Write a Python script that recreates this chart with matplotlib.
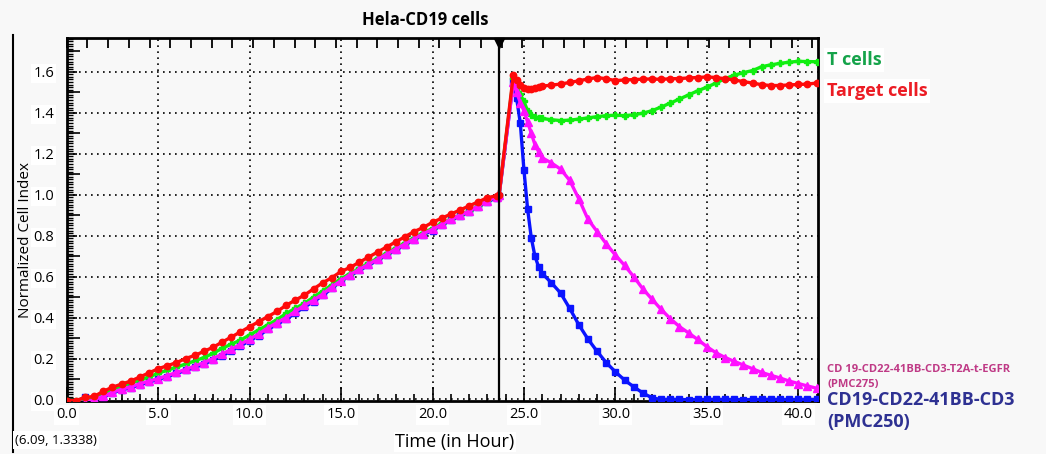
import matplotlib
matplotlib.use("Agg")
import matplotlib.pyplot as plt
import matplotlib.transforms as mtrans
from matplotlib.lines import Line2D
from matplotlib.ticker import MultipleLocator, NullFormatter
import numpy as np

# ---------------- data ----------------
time_pre = [0.0, 0.5, 1.0, 1.5, 2.0, 2.5, 3.0, 3.5, 4.0, 4.5, 5.0, 5.5, 6.0, 6.5, 7.0, 7.5,
            8.0, 8.5, 9.0, 9.5, 10.0, 10.5, 11.0, 11.5, 12.0, 12.5, 13.0, 13.5, 14.0, 14.5,
            15.0, 15.5, 16.0, 16.5, 17.0, 17.5, 18.0, 18.5, 19.0, 19.5, 20.0, 20.5, 21.0,
            21.5, 22.0, 22.5, 23.0, 23.5, 23.64]
time_post = [24.42, 24.6, 24.8, 25.0, 25.2, 25.4, 25.6, 25.8, 26.0, 26.5, 27.0, 27.5, 28.0,
             28.5, 29.0, 29.5, 30.0, 30.5, 31.0, 31.5, 32.0, 32.5, 33.0, 33.5, 34.0, 34.5,
             35.0, 35.5, 36.0, 36.5, 37.0, 37.5, 38.0, 38.5, 39.0, 39.5, 40.0, 40.5, 41.0]

target_pre = [-0.005, -0.005, 0.01, 0.015, 0.04, 0.06, 0.075, 0.09, 0.11, 0.13, 0.15, 0.165,
              0.18, 0.2, 0.215, 0.235, 0.255, 0.28, 0.305, 0.33, 0.355, 0.38, 0.405, 0.43,
              0.46, 0.485, 0.51, 0.54, 0.57, 0.595, 0.625, 0.645, 0.67, 0.695, 0.72, 0.745,
              0.77, 0.795, 0.82, 0.84, 0.865, 0.885, 0.905, 0.925, 0.945, 0.965, 0.985, 0.995, 1.0]
target_post = [1.585, 1.56, 1.535, 1.52, 1.515, 1.518, 1.522, 1.526, 1.53, 1.535, 1.54, 1.548,
               1.556, 1.565, 1.572, 1.566, 1.557, 1.56, 1.562, 1.564, 1.565, 1.563, 1.566,
               1.567, 1.57, 1.572, 1.575, 1.572, 1.566, 1.56, 1.552, 1.545, 1.537, 1.533,
               1.533, 1.536, 1.538, 1.54, 1.545]

tcell_pre = [-0.005, -0.005, 0.005, 0.005, 0.025, 0.05, 0.065, 0.08, 0.095, 0.11, 0.128, 0.143,
             0.158, 0.173, 0.188, 0.205, 0.225, 0.25, 0.27, 0.29, 0.315, 0.34, 0.365, 0.39,
             0.42, 0.445, 0.47, 0.5, 0.53, 0.56, 0.59, 0.615, 0.64, 0.665, 0.69, 0.715, 0.74,
             0.765, 0.79, 0.815, 0.835, 0.86, 0.88, 0.9, 0.92, 0.945, 0.97, 0.99, 1.0]
tcell_post = [1.57, 1.53, 1.49, 1.455, 1.41, 1.39, 1.38, 1.375, 1.372, 1.366, 1.362, 1.364,
              1.369, 1.375, 1.381, 1.386, 1.388, 1.386, 1.39, 1.398, 1.41, 1.428, 1.447,
              1.467, 1.487, 1.507, 1.525, 1.545, 1.567, 1.583, 1.596, 1.606, 1.625, 1.634,
              1.641, 1.647, 1.651, 1.65, 1.649]

pmc275_pre = [-0.01, -0.01, -0.015, 0.0, 0.015, 0.035, 0.05, 0.062, 0.077, 0.09, 0.102, 0.117,
              0.132, 0.147, 0.163, 0.18, 0.2, 0.222, 0.245, 0.27, 0.295, 0.32, 0.35, 0.375,
              0.4, 0.43, 0.46, 0.485, 0.515, 0.55, 0.58, 0.61, 0.635, 0.66, 0.685, 0.71, 0.735,
              0.76, 0.785, 0.81, 0.83, 0.855, 0.88, 0.9, 0.92, 0.945, 0.97, 0.99, 1.0]
pmc275_post = [1.548, 1.5, 1.45, 1.41, 1.355, 1.3, 1.245, 1.21, 1.18, 1.155, 1.125, 1.07, 0.98,
               0.88, 0.82, 0.76, 0.705, 0.655, 0.6, 0.54, 0.49, 0.44, 0.395, 0.356, 0.325,
               0.293, 0.258, 0.228, 0.205, 0.186, 0.168, 0.15, 0.132, 0.118, 0.105, 0.09,
               0.078, 0.066, 0.055]

pmc250_pre = [-0.01, -0.01, 0.01, 0.0, 0.012, 0.032, 0.047, 0.058, 0.072, 0.086, 0.098, 0.112,
              0.127, 0.142, 0.157, 0.173, 0.193, 0.213, 0.238, 0.262, 0.287, 0.312, 0.342,
              0.367, 0.392, 0.422, 0.452, 0.478, 0.508, 0.543, 0.578, 0.605, 0.63, 0.655, 0.68,
              0.705, 0.73, 0.755, 0.78, 0.805, 0.825, 0.85, 0.875, 0.895, 0.915, 0.94, 0.965,
              0.985, 0.995]
pmc250_post = [1.556, 1.47, 1.35, 1.12, 0.93, 0.79, 0.70, 0.648, 0.615, 0.57, 0.52, 0.445,
               0.365, 0.295, 0.235, 0.18, 0.135, 0.095, 0.062, 0.032, 0.008, 0.0, 0.001, 0.0,
               -0.001, 0.0, 0.0, 0.001, 0.0, 0.0, -0.001, 0.0, 0.0, 0.001, 0.0, 0.0, 0.0,
               0.001, 0.0]

treatment_time = 23.64
x_ticks = [0, 5, 10, 15, 20, 25, 30, 35, 40]
x_tick_labels = ["0.0", "5.0", "10.0", "15.0", "20.0", "25.0", "30.0", "35.0", "40.0"]
y_ticks = [0.0, 0.2, 0.4, 0.6, 0.8, 1.0, 1.2, 1.4, 1.6]
y_tick_labels = ["0.0", "0.2", "0.4", "0.6", "0.8", "1.0", "1.2", "1.4", "1.6"]

# ---------------- figure ----------------
BG = "#f8f8f8"
plt.rcParams['font.family'] = ['Open Sans', 'DejaVu Sans']
fig = plt.figure(figsize=(10.46, 4.54), dpi=100, facecolor=BG)
ax = fig.add_axes([0.0638, 0.1178, 0.7186, 0.7985], facecolor=BG)

t_all = time_pre + time_post
series = [
    (pmc250_pre + pmc250_post, "#0a14ff", "s", 4.6),
    (tcell_pre + tcell_post, "#10ee10", "P", 5.0),
    (pmc275_pre + pmc275_post, "#ff10ff", "^", 5.2),
    (target_pre + target_post, "#ff0a0a", "o", 4.6),
]
for vals, col, mk, ms in series:
    ax.plot(t_all, vals, color=col, lw=2.4, marker=mk, ms=ms, mec=col, mfc=col, zorder=3)

ax.set_xlim(0, 41.1)
ax.set_ylim(-0.005, 1.765)

ax.axvline(treatment_time, color="black", lw=1.6, zorder=4)
trans = mtrans.blended_transform_factory(ax.transData, ax.transAxes)
ax.plot([treatment_time], [0.985], marker="v", ms=7, color="black", transform=trans,
        clip_on=False, zorder=5)

# grid
ax.set_xticks(x_ticks)
ax.set_xticklabels(x_tick_labels)
ax.set_yticks(y_ticks)
ax.set_yticklabels(y_tick_labels)
ax.grid(True, which="major", color="black", lw=1.2, linestyle=(0, (1, 2.6)), zorder=1)
ax.xaxis.set_minor_locator(MultipleLocator(1.0))
ax.yaxis.set_minor_locator(MultipleLocator(0.0125))
ax.tick_params(axis="x", which="major", direction="in", length=10, width=1.2,
               labelsize=10.5, pad=5, top=False)
ax.tick_params(axis="x", which="minor", direction="in", length=5, width=1.2, top=False)
ax.tick_params(axis="y", which="major", direction="in", length=7, width=1.2,
               labelsize=10.5, pad=9, right=False)
ax.tick_params(axis="y", which="minor", direction="in", length=4.5, width=1.0, right=False)
for lab in ax.get_xticklabels() + ax.get_yticklabels():
    lab.set_bbox(dict(facecolor="white", edgecolor="none", pad=1.5))

# mid ticks on y and top ticks
sec_y = ax.secondary_yaxis("left")
sec_y.set_yticks([0.1, 0.3, 0.5, 0.7, 0.9, 1.1, 1.3, 1.5, 1.7])
sec_y.yaxis.set_major_formatter(NullFormatter())
sec_y.tick_params(direction="in", length=9, width=1.2)
sec_y.spines["left"].set_visible(False)

top_pos = np.arange(0, 41.1, 20.71 / 18.29)
sec_x = ax.secondary_xaxis("top")
sec_x.set_xticks(top_pos)
sec_x.xaxis.set_major_formatter(NullFormatter())
sec_x.tick_params(direction="in", length=7, width=1.3)
sec_x.spines["top"].set_visible(False)

for sp in ax.spines.values():
    sp.set_linewidth(2.0)
    sp.set_color("black")

# outer left line
fig.add_artist(Line2D([13 / 1046, 13 / 1046], [1 - 35 / 454, 1 - 452 / 454],
                      color="black", lw=1.5))

# texts
fig.text(425 / 1046, 1 - 20 / 454, "Hela-CD19 cells", ha="center", va="center",
         fontsize=12, fontweight="bold")
fig.text(455 / 1046, 1 - 442 / 454, "Time (in Hour)", ha="center", va="center",
         fontsize=13, bbox=dict(facecolor="white", edgecolor="none", pad=1))
fig.text(26 / 1046, 1 - 240 / 454, "Normalized Cell Index", ha="center", va="center",
         rotation=90, fontsize=11, zorder=0)
fig.text(15 / 1046, 1 - 440 / 454, "(6.09, 1.3338)", ha="left", va="center",
         fontsize=9.5, bbox=dict(facecolor="white", edgecolor="none", pad=1.5))

box = dict(facecolor="white", edgecolor="none", pad=2)
fig.text(827 / 1046, 1 - 60 / 454, "T cells", ha="left", va="center", fontsize=13,
         fontweight="bold", color="#15a34a", bbox=box)
fig.text(827 / 1046, 1 - 91 / 454, "Target cells", ha="left", va="center", fontsize=13,
         fontweight="bold", color="#ec1c24", bbox=box)
fig.text(827 / 1046, 1 - 369 / 454, "CD 19-CD22-41BB-CD3-T2A-t-EGFR", ha="left", va="center",
         fontsize=8, fontweight="bold", color="#bf3a86")
fig.text(827 / 1046, 1 - 384 / 454, "(PMC275)", ha="left", va="center",
         fontsize=8, fontweight="bold", color="#bf3a86")
fig.text(827 / 1046, 1 - 400 / 454, "CD19-CD22-41BB-CD3", ha="left", va="center",
         fontsize=13, fontweight="bold", color="#2e3192")
fig.text(827 / 1046, 1 - 422 / 454, "(PMC250)", ha="left", va="center",
         fontsize=13, fontweight="bold", color="#2e3192")

fig.savefig("out.png", dpi=100, facecolor=BG)
